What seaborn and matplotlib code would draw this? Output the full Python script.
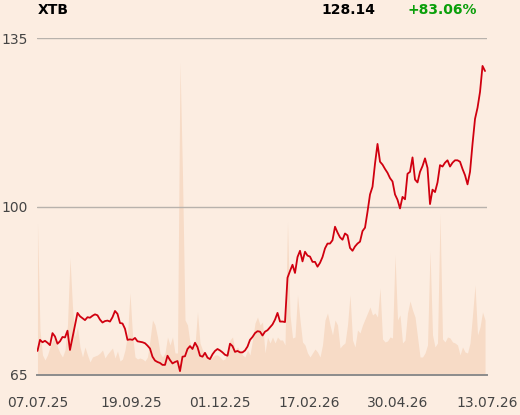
import matplotlib
matplotlib.use("Agg")
import matplotlib.pyplot as plt
import numpy as np
import pandas as pd
import seaborn as sns

# header texts
TICKER = "XTB"
LAST_PRICE = "128.14"
CHANGE = "+83.06%"

# daily close, one value per session
PRICE = [
    70.0, 72.3, 71.8, 72.1, 71.7, 71.2, 73.7, 73.0, 71.5, 72.0,
    72.9, 72.8, 74.2, 70.2, 72.8, 75.5, 77.9, 77.2, 76.8, 76.4,
    77.0, 76.9, 77.3, 77.6, 77.4, 76.5, 75.9, 76.2, 76.3, 76.1,
    77.0, 78.3, 77.7, 75.8, 75.7, 74.6, 72.3, 72.4, 72.3, 72.7,
    72.0, 71.9, 71.8, 71.6, 71.1, 70.5, 68.8, 68.0, 67.7, 67.5,
    67.1, 67.1, 69.0, 68.1, 67.4, 67.7, 67.9, 65.8, 68.8, 68.9,
    70.4, 71.0, 70.4, 71.7, 70.8, 69.0, 68.8, 69.6, 68.6, 68.3,
    69.3, 70.0, 70.4, 70.1, 69.7, 69.2, 69.0, 71.5, 71.0, 69.8,
    70.0, 69.7, 69.7, 70.1, 70.9, 72.3, 72.9, 73.7, 74.1, 74.0,
    73.2, 74.0, 74.3, 74.9, 75.5, 76.5, 77.9, 76.1, 76.1, 76.0,
    85.2, 86.6, 87.9, 86.2, 89.5, 90.8, 88.6, 90.6, 89.8, 89.6,
    88.5, 88.5, 87.5, 88.3, 89.5, 91.3, 92.3, 92.3, 93.0, 95.8,
    94.6, 93.6, 93.1, 94.4, 94.0, 91.4, 90.8, 91.7, 92.3, 92.7,
    94.9, 95.6, 98.9, 102.5, 104.1, 108.9, 113.0, 109.3, 108.7, 107.8,
    107.0, 105.9, 105.2, 102.5, 101.4, 99.6, 102.0, 101.5, 106.8, 107.2,
    110.2, 105.6, 105.0, 107.2, 108.4, 110.0, 108.0, 100.5, 103.5, 103.0,
    105.0, 108.6, 108.3, 109.1, 109.6, 108.3, 109.1, 109.6, 109.6, 109.3,
    107.8, 106.5, 104.6, 107.2, 113.0, 118.2, 120.5, 123.8, 129.2, 128.14,
]

# traded volume per session (arbitrary units)
VOLUME = [
    152, 45, 20, 15, 20, 28, 34, 38, 28, 22,
    18, 25, 50, 117, 68, 38, 48, 28, 18, 28,
    20, 13, 18, 19, 20, 22, 25, 17, 21, 24,
    27, 17, 24, 14, 16, 25, 40, 82, 40, 18,
    16, 17, 16, 14, 18, 35, 55, 50, 38, 22,
    18, 22, 38, 30, 38, 22, 22, 313, 200, 55,
    50, 32, 25, 30, 63, 32, 25, 22, 20, 15,
    18, 20, 20, 18, 15, 16, 25, 35, 38, 25,
    28, 24, 20, 18, 25, 20, 35, 52, 58, 50,
    53, 22, 38, 32, 38, 32, 38, 35, 35, 30,
    153, 60, 37, 38, 80, 55, 33, 30, 22, 18,
    22, 26, 23, 18, 30, 55, 62, 50, 40, 55,
    50, 27, 30, 32, 50, 80, 35, 28, 45, 42,
    50, 56, 62, 68, 60, 62, 58, 87, 36, 33,
    34, 38, 37, 120, 55, 60, 32, 35, 62, 74,
    65, 58, 38, 18, 18, 22, 30, 124, 40, 28,
    32, 161, 36, 33, 38, 37, 33, 32, 30, 20,
    28, 23, 22, 32, 60, 90, 40, 48, 63, 55,
]

Y_TICKS = [65, 100, 135]
X_TICK_LABELS = ["07.07.25", "19.09.25", "01.12.25", "17.02.26", "30.04.26", "13.07.26"]

BG = "#fcede1"
VOL_COLOR = "#f7dbc6"
LINE_COLOR = "#d0000f"
GREEN = "#0a9f0a"
GRID = "#b8b2ac"
AXIS = "#8c8c8c"
TEXT = "#444444"

df = pd.DataFrame({
    "session": np.arange(len(PRICE)),
    "price": PRICE,
    "volume": VOLUME,
})

sns.set_theme(style="white", rc={"axes.facecolor": BG, "figure.facecolor": BG})
plt.rcParams["font.family"] = ["DejaVu Sans"]

fig = plt.figure(figsize=(5.2, 4.15), dpi=100)
ax = fig.add_axes([0.0717, 0.0964, 0.8643, 0.812])
ax_vol = ax.twinx()

# volume area behind the price line
ax_vol.fill_between(df["session"], 0, df["volume"], color=VOL_COLOR, lw=0)
ax_vol.set_ylim(0, 337)
ax_vol.axis("off")
ax.set_zorder(ax_vol.get_zorder() + 1)
ax.patch.set_visible(False)

sns.lineplot(data=df, x="session", y="price", color=LINE_COLOR, linewidth=1.3, ax=ax)

x_lo, x_hi = -0.08, len(PRICE) - 1 + 0.68
ax.set_xlim(x_lo, x_hi)
ax_vol.set_xlim(x_lo, x_hi)
ax.set_ylim(Y_TICKS[0], Y_TICKS[-1])

tick_frac = [0, 0.21, 0.407, 0.604, 0.801, 1.0]
ax.set_xticks([x_lo + f * (x_hi - x_lo) for f in tick_frac])
ax.set_xticklabels(X_TICK_LABELS)
ax.set_yticks(Y_TICKS)
ax.set_yticklabels([str(v) for v in Y_TICKS])

ax.set_xlabel("")
ax.set_ylabel("")
for side in ["top", "right", "left"]:
    ax.spines[side].set_visible(False)
ax.spines["bottom"].set_color(AXIS)
ax.spines["bottom"].set_linewidth(1.4)

ax.grid(axis="y", color=GRID, linewidth=1.0)
ax.grid(False, axis="x")
ax.set_axisbelow(True)

ax.tick_params(axis="x", length=10, width=1.2, color=AXIS, labelsize=10, labelcolor=TEXT, pad=5)
ax.tick_params(axis="y", length=0, labelsize=10, labelcolor=TEXT, pad=7)

fig.text(0.0717, 0.976, TICKER, fontsize=10, fontweight="bold", color="black", va="center")
fig.text(0.619, 0.976, LAST_PRICE, fontsize=10, fontweight="bold", color="black", va="center")
fig.text(0.783, 0.976, CHANGE, fontsize=10, fontweight="bold", color=GREEN, va="center")

fig.savefig("out.png", dpi=100, facecolor=BG)
